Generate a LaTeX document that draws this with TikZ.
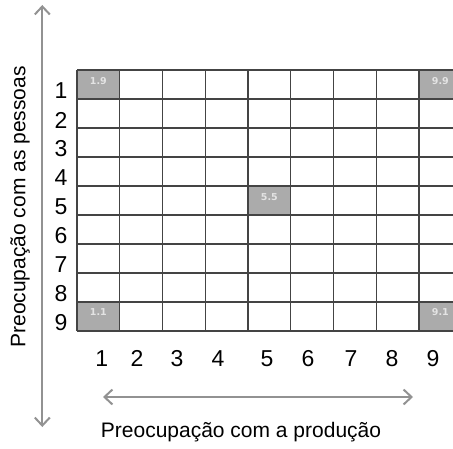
\documentclass[tikz,border=0pt]{standalone}
\usepackage{fontspec}
\setmainfont{Liberation Sans}
\newfontfamily\celllabelfont{DejaVu Sans}
\usetikzlibrary{arrows.meta}
\definecolor{gridline}{HTML}{444444}
\definecolor{cellgray}{HTML}{ABABAB}
\definecolor{celltext}{HTML}{E4E4E4}
\definecolor{arrowgray}{HTML}{929292}
\begin{document}
\begin{tikzpicture}[x=1pt,y=-1pt,
  shadecell/.style={fill=cellgray,draw=none,minimum width=42.75pt,minimum height=29pt,inner sep=0pt,outer sep=0pt},
  celllabel/.style={text=celltext,font=\celllabelfont\fontsize{9.5}{9.5}\selectfont\bfseries,inner sep=0pt},
  numlabel/.style={font=\fontsize{23}{23}\selectfont,inner sep=0pt},
  axislabel/.style={font=\fontsize{21}{21}\selectfont,inner sep=0pt},
  gridstyle/.style={draw=gridline,line width=1.3pt},
  axisarrow/.style={draw=arrowgray,line width=2pt,{Straight Barb[length=8pt,width=15pt]}-{Straight Barb[length=8pt,width=15pt]}}]
\useasboundingbox (0,0) rectangle (453,448);
\clip (0,0) rectangle (453,448);
% shaded cells
\node[shadecell] (c19) at (98.375,84.5) {};
\node[shadecell] (c99) at (440.375,84.5) {};
\node[shadecell] (c55) at (269.375,200.5) {};
\node[shadecell] (c11) at (98.375,316.5) {};
\node[shadecell] (c91) at (440.375,316.5) {};
\node[celllabel] (t19) at ([yshift=3pt]c19.center) {1.9};
\node[celllabel] (t99) at ([yshift=3pt]c99.center) {9.9};
\node[celllabel] (t55) at ([yshift=3.5pt]c55.center) {5.5};
\node[celllabel] (t11) at ([yshift=4pt]c11.center) {1.1};
\node[celllabel] (t91) at ([yshift=4pt]c91.center) {9.1};
% grid
\foreach \i in {0,...,9}{
  \draw[gridstyle] (77+42.75*\i,70) -- (77+42.75*\i,331);
  \draw[gridstyle] (77,70+29*\i) -- (461.75,70+29*\i);
}
% row labels
\foreach \i in {1,...,9}{
  \node[numlabel] (r\i) at (61,62+29*\i) {\i};
}
% column labels
\foreach \x [count=\i] in {101.7,137,177,218,267,308,351,392,433}{
  \node[numlabel] (k\i) at (\x,358.5) {\i};
}
% axes
\coordinate (vtop) at (42.3,5);
\coordinate (vbot) at (42.3,427);
\coordinate (hl) at (103,397);
\coordinate (hr) at (413,397);
\draw[axisarrow] (vbot) -- (vtop);
\draw[axisarrow] (hl) -- (hr);
\node[axislabel,rotate=90] (ylab) at (20,207) {Preocupação com as pessoas};
\node[axislabel] (xlab) at (241,432) {Preocupação com a produção};
\end{tikzpicture}
\end{document}
